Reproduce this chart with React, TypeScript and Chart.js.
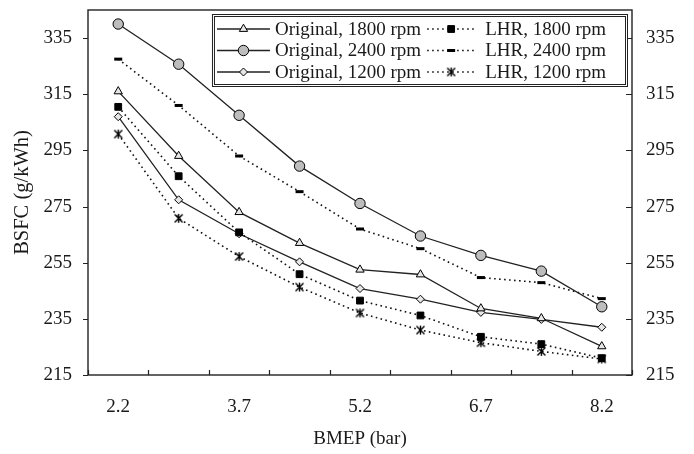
import React, { useEffect, useRef } from 'react';
import { Chart, registerables } from 'chart.js';
import { drawPoint } from 'chart.js/helpers';

Chart.register(...registerables);

const bmep = ['2.2', '2.95', '3.7', '4.45', '5.2', '5.95', '6.7', '7.45', '8.2'];
const shownBmep = ['2.2', '3.7', '5.2', '6.7', '8.2'];
const yTicks = [215, 235, 255, 275, 295, 315, 335];

const original1800 = [316, 293, 273, 262, 252.5, 250.8, 238.7, 235.2, 225.2];
const original2400 = [340, 325.7, 307.5, 289.4, 276.1, 264.5, 257.6, 252, 239.3];
const original1200 = [307, 277.4, 265.3, 255.3, 245.8, 242, 237.3, 234.8, 232];
const lhr1800 = [310.5, 285.8, 265.8, 250.9, 241.5, 236.2, 228.6, 226, 221];
const lhr2400 = [327.5, 311, 293, 280.3, 267, 260, 249.7, 247.9, 242.2];
const lhr1200 = [300.8, 270.8, 257.2, 246.3, 237.1, 231, 226.5, 223.4, 220.7];

const FONT = 'Liberation Serif';
const TEXT = '#1a1a1a';

function makeAsterisk(): HTMLCanvasElement {
  const size = 11;
  const c = document.createElement('canvas');
  c.width = size;
  c.height = size;
  const g = c.getContext('2d')!;
  g.strokeStyle = '#000';
  g.lineWidth = 1.4;
  const a = 1.5;
  const b = size - 1.5;
  g.beginPath();
  g.moveTo(a, a);
  g.lineTo(b, b);
  g.moveTo(b, a);
  g.lineTo(a, b);
  g.moveTo(size / 2, a - 0.5);
  g.lineTo(size / 2, b + 0.5);
  g.stroke();
  return c;
}

export default function App() {
  const ref = useRef<HTMLCanvasElement | null>(null);

  useEffect(() => {
    document.body.style.margin = '0';
    const canvas = ref.current;
    if (!canvas) return;
    const asterisk = makeAsterisk();

    const solid = { borderColor: '#222', borderWidth: 1.3, pointBorderColor: '#000', pointBorderWidth: 1 };
    const dotted = { borderColor: '#111', borderWidth: 1.6, borderDash: [1.6, 3.4], pointBorderColor: '#000', pointBorderWidth: 1 };

    const datasets: any[] = [
      { label: 'Original, 1800 rpm', data: original1800, ...solid, pointStyle: 'triangle', pointRadius: 4.8, pointBackgroundColor: '#e6e6e6' },
      { label: 'LHR, 1800 rpm', data: lhr1800, ...dotted, pointStyle: 'rect', pointRadius: 4.8, pointBackgroundColor: '#000' },
      { label: 'Original, 2400 rpm', data: original2400, ...solid, pointStyle: 'circle', pointRadius: 5.2, pointBackgroundColor: '#bdbdbd' },
      { label: 'LHR, 2400 rpm', data: lhr2400, ...dotted, pointStyle: 'line', pointRadius: 4, pointBorderWidth: 3, pointBackgroundColor: '#000' },
      { label: 'Original, 1200 rpm', data: original1200, ...solid, pointStyle: 'rectRot', pointRadius: 4, pointBackgroundColor: '#e6e6e6' },
      { label: 'LHR, 1200 rpm', data: lhr1200, ...dotted, pointStyle: asterisk, pointRadius: 5, pointBackgroundColor: '#000' },
    ];
    datasets.forEach((d) => {
      d.fill = false;
      d.tension = 0;
      d.yAxisID = 'y';
    });

    const framePlugin = {
      id: 'frameTicks',
      beforeDatasetsDraw(chart: any) {
        const { ctx, chartArea } = chart;
        const xs = chart.scales.x;
        const ys = chart.scales.y;
        ctx.save();
        ctx.strokeStyle = '#222';
        ctx.lineWidth = 1.4;
        ctx.strokeRect(chartArea.left, chartArea.top, chartArea.right - chartArea.left, chartArea.bottom - chartArea.top);
        ctx.beginPath();
        for (let i = 0; i <= bmep.length; i++) {
          const x = Math.round(xs.getPixelForValue(i - 0.5)) + 0.5;
          ctx.moveTo(x, chartArea.bottom);
          ctx.lineTo(x, chartArea.bottom - 5);
        }
        yTicks.forEach((v) => {
          const y = Math.round(ys.getPixelForValue(v)) + 0.5;
          ctx.moveTo(chartArea.left - 5, y);
          ctx.lineTo(chartArea.left, y);
          ctx.moveTo(chartArea.right - 6, y);
          ctx.lineTo(chartArea.right, y);
        });
        ctx.lineWidth = 1.2;
        ctx.stroke();
        ctx.restore();
      },
    };

    const legendPlugin = {
      id: 'boxLegend',
      afterDatasetsDraw(chart: any) {
        const { ctx, chartArea } = chart;
        ctx.save();
        ctx.font = `19px ${FONT}`;
        const right = chartArea.right - 4;
        const top = chartArea.top + 4;
        const rowH = 21.5;
        const h = 73;
        const len1 = 53;
        const len2 = 48;
        const col1Text = Math.max(...[0, 2, 4].map((i) => ctx.measureText(datasets[i].label).width));
        const col2Text = Math.max(...[1, 3, 5].map((i) => ctx.measureText(datasets[i].label).width));
        const innerW = 5 + len1 + 5 + col1Text + 6 + len2 + 10 + col2Text + 22;
        const left = right - innerW;
        ctx.fillStyle = '#fff';
        ctx.fillRect(left, top, right - left, h);
        ctx.strokeStyle = '#222';
        ctx.lineWidth = 1;
        ctx.strokeRect(left + 0.5, top + 0.5, right - left - 1, h - 1);
        ctx.strokeRect(left + 2.5, top + 2.5, right - left - 5, h - 5);
        const c2x = left + 5 + len1 + 5 + col1Text + 6;
        const cols = [
          { idx: [0, 2, 4], x0: left + 5, len: len1, tx: left + 5 + len1 + 5 },
          { idx: [1, 3, 5], x0: c2x, len: len2, tx: c2x + len2 + 10 },
        ];
        cols.forEach((col) => {
          col.idx.forEach((di, r) => {
            const d = datasets[di];
            const y = top + 15 + r * rowH;
            ctx.save();
            ctx.strokeStyle = d.borderColor;
            ctx.lineWidth = d.borderWidth;
            ctx.setLineDash(d.borderDash || []);
            ctx.beginPath();
            ctx.moveTo(col.x0, y);
            ctx.lineTo(col.x0 + col.len, y);
            ctx.stroke();
            ctx.setLineDash([]);
            ctx.fillStyle = d.pointBackgroundColor;
            ctx.strokeStyle = d.pointBorderColor;
            ctx.lineWidth = d.pointBorderWidth;
            drawPoint(ctx, { pointStyle: d.pointStyle, radius: d.pointRadius, borderWidth: d.pointBorderWidth, rotation: 0 } as any, col.x0 + col.len / 2, y);
            ctx.restore();
            ctx.fillStyle = TEXT;
            ctx.textBaseline = 'middle';
            ctx.textAlign = 'left';
            ctx.fillText(d.label, col.tx, y + 1);
          });
        });
        ctx.restore();
      },
    };

    const yCommon = {
      type: 'linear' as const,
      min: 215,
      max: 345,
      grid: { display: false, drawTicks: false },
      border: { display: false },
      afterBuildTicks: (s: any) => {
        s.ticks = yTicks.map((v) => ({ value: v }));
      },
    };

    const chart = new Chart(canvas, {
      type: 'line',
      data: { labels: bmep, datasets },
      options: {
        responsive: false,
        animation: false,
        devicePixelRatio: 1,
        layout: { padding: { top: 10, left: 0, right: 0, bottom: 0 } },
        plugins: { legend: { display: false }, tooltip: { enabled: false } },
        scales: {
          x: {
            type: 'category',
            offset: true,
            grid: { display: false, drawTicks: false, offset: true },
            border: { display: false },
            ticks: {
              autoSkip: false,
              maxRotation: 0,
              color: TEXT,
              font: { family: FONT, size: 19 },
              padding: 21,
              callback: (_v: any, i: number) => (shownBmep.includes(bmep[i]) ? bmep[i] : ''),
            },
            title: { display: true, text: 'BMEP (bar)', color: TEXT, font: { family: FONT, size: 19 }, padding: { top: 4, bottom: 4 } },
            afterFit: (s: any) => {
              s.height = 79;
              s.paddingLeft = 0;
              s.paddingRight = 0;
            },
          },
          y: {
            ...yCommon,
            position: 'left',
            ticks: { color: TEXT, font: { family: FONT, size: 19 }, padding: 16 },
            title: { display: true, text: 'BSFC (g/kWh)', color: TEXT, font: { family: FONT, size: 20.5 }, padding: { top: 10, bottom: 0 } },
            afterFit: (s: any) => {
              s.width = 88;
              s.paddingTop = 0;
              s.paddingBottom = 0;
            },
          },
          y2: {
            ...yCommon,
            position: 'right',
            ticks: { color: TEXT, font: { family: FONT, size: 19 }, padding: 14 },
            afterFit: (s: any) => {
              s.width = 62;
              s.paddingTop = 0;
              s.paddingBottom = 0;
            },
          },
        },
      },
      plugins: [framePlugin, legendPlugin],
    } as any);

    return () => chart.destroy();
  }, []);

  return <canvas ref={ref} width={694} height={454} style={{ display: 'block' }} />;
}
